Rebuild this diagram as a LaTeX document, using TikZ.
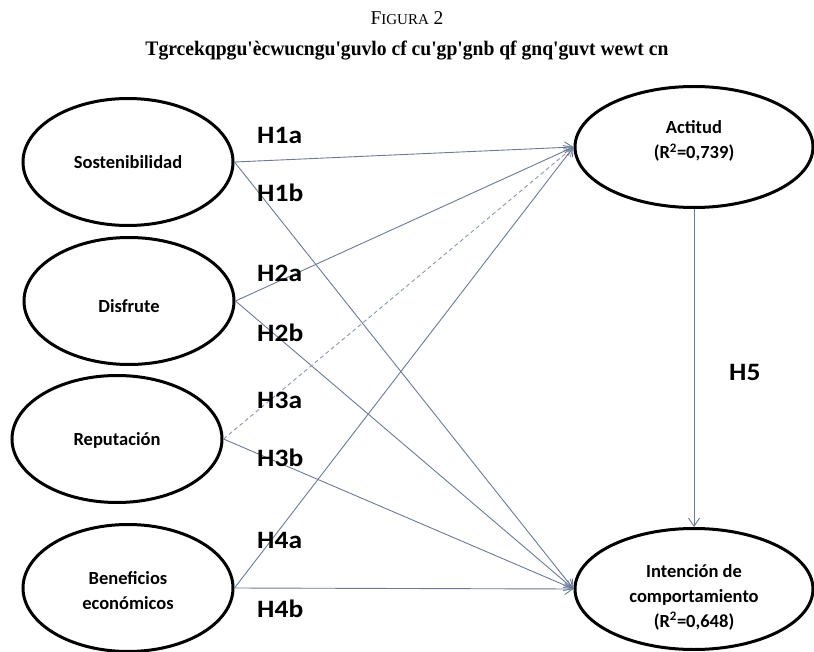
\documentclass[tikz,border=0pt]{standalone}
\usepackage{fontspec}
\setmainfont{Liberation Serif}
\newfontfamily\capfont{Liberation Serif}[Ligatures=TeXOff]
\newfontfamily\lblfont{Carlito}
\usetikzlibrary{shapes.geometric,arrows.meta}
\definecolor{pathcol}{RGB}{108,122,152}
\begin{document}
\begin{tikzpicture}[x=1pt,y=-1pt,
  construct/.style={ellipse,draw=black,line width=3pt,inner sep=0pt,
                    minimum width=210pt,minimum height=127pt},
  target/.style={construct,minimum width=238pt,minimum height=121pt},
  ctext/.style={font=\lblfont\bfseries\fontsize{18.5}{25}\selectfont,align=center,inner sep=0pt},
  hyp/.style={font=\lblfont\bfseries\fontsize{25}{28}\selectfont,anchor=west,inner sep=0pt,xscale=1.1},
  link/.style={draw=pathcol,line width=0.9pt,-{Straight Barb[length=8pt,width=11pt]}},
  weak/.style={link,dash pattern=on 4pt off 3pt,draw=pathcol!80},
]
\useasboundingbox (0,0) rectangle (814,652);
\fill[white] (0,0) rectangle (814,652);

% heading
\node (fig) at (407,18) {\fontsize{19.5}{22}\selectfont F{\fontsize{15}{18}\selectfont IGURA} 2};
\node (cap) at (407,51) {\resizebox{523pt}{14.5pt}{\capfont\bfseries Tgrcekqpgu'ècwucngu'guvlo cf cu'gp'gnb qf gnq'guvt wewt cn}};

% exogenous constructs
\node[construct] (sos) at (128,162) {};
\node[construct] (dis) at (129,301) {};
\node[construct] (rep) at (117,439) {};
\node[construct] (ben) at (128,588) {};
\node[ctext] (sosT) at (sos.center) {Sostenibilidad};
\node[ctext] (disT) at (129,306) {Disfrute};
\node[ctext] (repT) at (117,440) {Reputación};
\node[ctext] (benT) at (128,591) {Beneficios\\económicos};

% endogenous constructs
\node[target] (act) at (694,147) {};
\node[target] (int) at (694,589) {};
\node[ctext] (actT) at (694,141) {Actitud\\(R\textsuperscript{2}=0,739)};
\node[ctext] (intT) at (694,597) {Intención de\\comportamiento\\(R\textsuperscript{2}=0,648)};

% structural paths
\draw[link] (sos.east) -- (act.west);
\draw[link] (sos.east) -- (int.west);
\draw[link] (dis.east) -- (act.west);
\draw[link] (dis.east) -- (int.west);
\draw[weak] (rep.east) -- (act.west);
\draw[link] (rep.east) -- (int.west);
\draw[link] (ben.east) -- (act.west);
\draw[link] (ben.east) -- (int.west);
\draw[link] (act.south) -- (int.north);

% hypothesis labels
\node[hyp] (h1a) at (257,135) {H1a};
\node[hyp] (h1b) at (257,193) {H1b};
\node[hyp] (h2a) at (257,273) {H2a};
\node[hyp] (h2b) at (257,333) {H2b};
\node[hyp] (h3a) at (257,400) {H3a};
\node[hyp] (h3b) at (257,458) {H3b};
\node[hyp] (h4a) at (257,540) {H4a};
\node[hyp] (h4b) at (257,609) {H4b};
\node[hyp] (h5)  at (729,372) {H5};
\end{tikzpicture}
\end{document}
